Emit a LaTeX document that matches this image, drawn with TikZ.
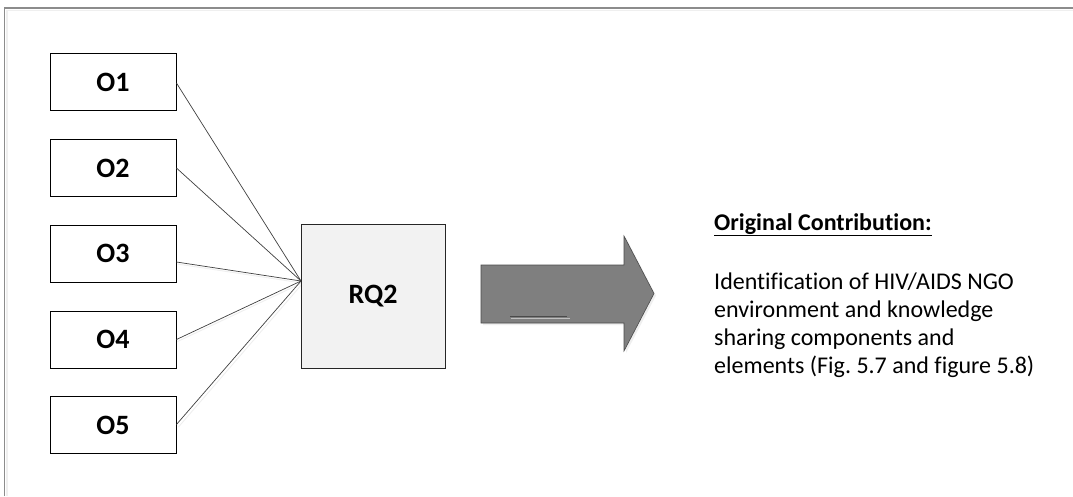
\documentclass[tikz,border=0pt]{standalone}
\usepackage{fontspec}
\setmainfont{Carlito}[Ligatures={NoCommon}]
\frenchspacing
\usetikzlibrary{calc}
\definecolor{framegray}{HTML}{8C8C8C}
\definecolor{shadegray}{HTML}{EFEFEF}
\definecolor{rqfill}{HTML}{F2F2F2}
\definecolor{arrowfill}{HTML}{7F7F7F}
\definecolor{arrowline}{HTML}{4A4A4A}
\definecolor{linkgray}{HTML}{404040}
\tikzset{
  obox/.style={draw=black, line width=0.9pt, fill=white, minimum width=126pt, minimum height=57pt, inner sep=0pt, font=\fontsize{28}{32}\selectfont\bfseries},
  rqbox/.style={draw=black!85, line width=0.9pt, fill=rqfill, minimum width=144pt, minimum height=144pt, inner sep=0pt, font=\fontsize{28}{32}\selectfont\bfseries},
  link/.style={draw=linkgray, line width=0.7pt},
  linkshade/.style={draw=shadegray, line width=0.9pt},
  bodytext/.style={font=\fontsize{24}{28}\selectfont, inner sep=0pt, anchor=base west}
}
\begin{document}
\begin{tikzpicture}[x=1pt,y=-1pt]
\useasboundingbox (0,0) rectangle (1073,496);
\fill[white] (0,0) rectangle (1073,496);
% outer frame (only top and left edges are visible)
\draw[shadegray, line width=1.5pt] (7,496) -- (7,10.5) -- (1073,10.5);
\draw[framegray, line width=1.3pt] (4.7,496) -- (4.7,8) -- (1073,8);

% objective boxes
\node[obox] (o1) at (113,82) {O1};
\node[obox] (o2) at (113,168) {O2};
\node[obox] (o3) at (113,253.5) {O3};
\node[obox] (o4) at (113,339.5) {O4};
\node[obox] (o5) at (113,425) {O5};

% hub point on RQ2 west side
\coordinate (hub) at (301,281);

% shadows of links
\draw[linkshade] ($(o3.east)+(1,10.5)$) -- ($(hub)+(1,2)$);
\draw[linkshade] ($(o4.east)+(1,2)$) -- ($(hub)+(1,2)$);
\draw[linkshade] ($(o5.east)+(2,2)$) -- ($(hub)+(2,2)$);

% links
\draw[link] ($(o1.east)+(0,1)$) -- (hub);
\draw[link] (o2.east) -- (hub);
\draw[link] ($(o3.east)+(0,8.5)$) -- (hub);
\draw[link] (o4.east) -- (hub);
\draw[link] ($(o5.east)+(0,-0.5)$) -- (hub);

% RQ2 box
\node[rqbox] (rq) at (373,296) {RQ2};

% block arrow
\fill[shadegray] (483,267) -- (626,267) -- (626,238) -- (656,295.5) -- (626,353) -- (626,325) -- (483,325) -- cycle;
\filldraw[fill=arrowfill, draw=arrowline, line width=0.6pt] (481,265) -- (624,265) -- (624,236) -- (654,293.5) -- (624,351) -- (624,323) -- (481,323) -- cycle;
\draw[arrowline, line width=0.8pt] (510,316.5) -- (567,316.5);
\draw[black!25, line width=0.8pt] (511,318.5) -- (570,318.5);

% text
\node[bodytext, font=\fontsize{24}{28}\selectfont\bfseries] (hdr) at (714,230) {\underline{Original Contribution:}};
\node[bodytext] (t1) at (714,289) {Identification of HIV/AIDS NGO};
\node[bodytext] (t2) at (714,317) {environment and knowledge};
\node[bodytext] (t3) at (714,345) {sharing components and};
\node[bodytext] (t4) at (714,373) {elements (Fig. 5.7 and figure 5.8)};
\end{tikzpicture}
\end{document}
